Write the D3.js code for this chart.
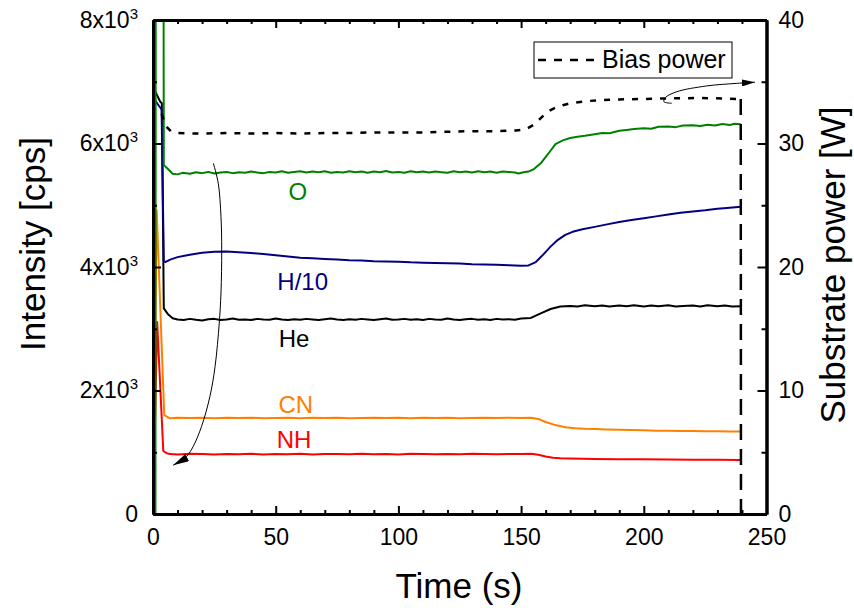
<!DOCTYPE html>
<html>
<head>
<meta charset="utf-8">
<script src="https://cdn.jsdelivr.net/npm/d3@7"></script>
<style>
  body { margin: 0; background: #fff; }
  svg { display: block; }
  text { font-family: "Liberation Sans", Arial, Helvetica, sans-serif; }
</style>
</head>
<body>
<svg id="chart" width="854" height="608"></svg>
<script>
// ---------- data ----------
const timeTicks = [0, 50, 100, 150, 200, 250];
const intensityTicks = [0, 2000, 4000, 6000, 8000];
const powerTicks = [0, 10, 20, 30, 40];

// [time (s), intensity (cps)]
const seriesO = [[0,0],[1.0,0],[1.15,12000],[4.2,12000],[4.4,5650],[6,5590],[8,5510],[10,5500],[12,5525],[15,5510],[17.5,5535],[20,5520],[22.5,5540],[25,5515],[27.5,5530],[30,5540],[32.5,5520],[35,5535],[37.5,5525],[40,5545],[42.5,5530],[45,5520],[47.5,5540],[50,5530],[52.5,5550],[55,5525],[57.5,5540],[60,5550],[62.5,5530],[65,5545],[67.5,5535],[70,5550],[72.5,5525],[75,5540],[77.5,5530],[80,5550],[82.5,5535],[85,5545],[87.5,5525],[90,5545],[92.5,5535],[95,5555],[97.5,5530],[100,5540],[102.5,5525],[105,5550],[107.5,5535],[110,5545],[112.5,5530],[115,5545],[117.5,5535],[120,5525],[122.5,5550],[125,5535],[127.5,5545],[130,5530],[132.5,5550],[135,5535],[137.5,5545],[140,5525],[142.5,5545],[145,5540],[147.5,5530],[149,5515],[151,5535],[153,5545],[155,5580],[158,5680],[161,5830],[164,5990],[167,6050],[170,6090],[173,6110],[176,6125],[180,6150],[183,6170],[186,6165],[190,6205],[193,6220],[196,6235],[200,6245],[203,6240],[206,6270],[210,6275],[213,6265],[216,6290],[220,6295],[223,6285],[226,6305],[229,6290],[232,6315],[235,6300],[237,6320],[239.5,6310]];

const seriesH = [[0,0],[0.8,6700],[3.5,6550],[4.4,4100],[5,4080],[7,4120],[10,4160],[15,4200],[20,4230],[25,4245],[30,4250],[35,4240],[40,4225],[45,4210],[50,4190],[55,4170],[60,4150],[65,4140],[70,4130],[75,4120],[80,4110],[85,4105],[90,4095],[95,4090],[100,4085],[105,4075],[110,4070],[115,4065],[120,4060],[125,4055],[130,4045],[135,4040],[140,4035],[145,4030],[150,4020],[153,4025],[156,4080],[159,4200],[162,4330],[165,4440],[168,4520],[171,4570],[175,4610],[180,4650],[185,4690],[190,4730],[195,4760],[200,4790],[205,4820],[210,4850],[215,4880],[220,4900],[225,4920],[230,4945],[235,4960],[239.5,4975]];

const seriesHe = [[0,0],[0.8,6850],[2.9,6680],[3.6,6650],[4.4,3330],[6,3240],[8,3170],[10,3150],[12.5,3140],[15,3160],[17.5,3145],[20,3135],[22.5,3155],[25,3160],[27.5,3140],[30,3150],[32.5,3165],[35,3145],[37.5,3150],[40,3140],[42.5,3160],[45,3150],[47.5,3145],[50,3165],[52.5,3150],[55,3140],[57.5,3155],[60,3145],[62.5,3160],[65,3150],[67.5,3140],[70,3155],[72.5,3165],[75,3150],[77.5,3140],[80,3155],[82.5,3145],[85,3160],[87.5,3150],[90,3140],[92.5,3155],[95,3165],[97.5,3145],[100,3150],[102.5,3160],[105,3145],[107.5,3155],[110,3140],[112.5,3160],[115,3150],[117.5,3145],[120,3165],[122.5,3150],[125,3140],[127.5,3155],[130,3160],[132.5,3145],[135,3155],[137.5,3140],[140,3160],[142.5,3150],[145,3155],[147.5,3145],[150,3165],[154,3175],[158,3250],[162,3320],[166,3360],[170,3370],[173,3360],[176,3380],[180,3365],[183,3375],[186,3360],[190,3375],[193,3365],[196,3380],[200,3360],[203,3375],[206,3365],[210,3380],[213,3360],[216,3370],[220,3375],[223,3360],[226,3380],[230,3365],[233,3375],[236,3360],[239.5,3365]];

const seriesCN = [[0,0],[1.5,4920],[4.6,1600],[6.9,1550],[10,1560],[15,1555],[20,1560],[25,1550],[30,1560],[35,1555],[40,1560],[45,1550],[50,1555],[55,1560],[60,1550],[65,1560],[70,1555],[75,1560],[80,1550],[85,1555],[90,1560],[95,1555],[100,1560],[105,1550],[110,1560],[115,1555],[120,1560],[125,1550],[130,1555],[135,1560],[140,1555],[145,1560],[150,1555],[154,1560],[157,1540],[160,1490],[164,1440],[168,1405],[172,1390],[176,1380],[180,1375],[185,1370],[190,1365],[195,1360],[200,1355],[205,1350],[210,1350],[215,1345],[220,1345],[225,1340],[230,1340],[235,1335],[239.5,1335]];

const seriesNH = [[0,0],[1.7,3110],[4.2,1020],[5.6,985],[7,970],[10,965],[15,975],[20,970],[25,965],[30,972],[35,968],[40,975],[45,965],[50,970],[55,968],[60,975],[65,965],[70,970],[75,972],[80,966],[85,975],[90,968],[95,970],[100,965],[105,975],[110,970],[115,968],[120,972],[125,966],[130,975],[135,970],[140,968],[145,972],[150,970],[154,975],[157,960],[160,930],[163,912],[166,903],[170,898],[175,895],[180,892],[190,888],[200,885],[210,882],[220,880],[230,878],[239.5,875]];

// [time (s), substrate bias power (W)]
const seriesBias = [[3.5,32.4],[5.3,31.4],[7.5,30.95],[10,30.85],[20,30.8],[30,30.85],[40,30.8],[50,30.85],[60,30.8],[70,30.85],[80,30.85],[90,30.9],[100,30.9],[110,30.9],[120,30.95],[130,31.0],[140,31.0],[148,31.05],[152,31.15],[155,31.5],[158,32.05],[161,32.6],[164,32.9],[167,33.1],[170,33.25],[174,33.36],[178,33.45],[182,33.5],[190,33.57],[199,33.6],[210,33.65],[223,33.68],[232,33.65],[239.5,33.6],[239.6,0]];

const seriesNames = ["O", "H/10", "He", "CN", "NH"];
const seriesColors = ["#008000", "#000080", "#000000", "#FF8000", "#FF0000"];
// label anchor points [time, intensity] for the series names
const labelPos = [[59, 5085], [61, 3627], [57.5, 2709], [58.2, 1640], [57.5, 1069]];

// guide arrows: one pointing from the curves to the left axis, one from the bias curve to the right axis
const arrowLeft = [[24.6,5680],[26.6,5355],[27.7,4815],[28.0,4275],[27.7,3580],[27.0,3095],[25.3,2390],[23.2,1905],[19.8,1420],[16.4,1096],[13.7,934],[8.2,790]];
const arrowRight = [[211.4,33.26],[208.2,33.38],[208.8,33.72],[213.4,34.19],[225.6,34.66],[237.9,34.87],[245.3,34.96]];

// ---------- layout ----------
const svg = d3.select("#chart");
const L = 153, R = 766.5, T = 20, B = 514;

const x = d3.scaleLinear().domain([0, 250]).range([L, R]);
const yL = d3.scaleLinear().domain([0, 8000]).range([B, T]);
const yR = d3.scaleLinear().domain([0, 40]).range([B, T]);

const defs = svg.append("defs");
defs.append("clipPath").attr("id", "plotClip")
  .append("rect").attr("x", L).attr("y", T).attr("width", R - L).attr("height", B - T);

function addMarker(id, w, h) {
  defs.append("marker").attr("id", id)
    .attr("viewBox", "0 0 10 10").attr("refX", 10).attr("refY", 5)
    .attr("preserveAspectRatio", "none")
    .attr("markerWidth", w).attr("markerHeight", h)
    .attr("markerUnits", "userSpaceOnUse").attr("orient", "auto")
    .append("path").attr("d", "M0,0 L10,5 L0,10 Z").attr("fill", "#000");
}
addMarker("headL", 16, 8);
addMarker("headR", 13, 7);

const plot = svg.append("g").attr("clip-path", "url(#plotClip)");

// intensity curves (O drawn last so its spike stays on top)
const lineL = d3.line().x(d => x(d[0])).y(d => yL(d[1]));
const allSeries = [seriesO, seriesH, seriesHe, seriesCN, seriesNH];
[4, 3, 2, 1, 0].forEach(i => {
  plot.append("path").datum(allSeries[i])
    .attr("d", lineL).attr("fill", "none")
    .attr("stroke", seriesColors[i]).attr("stroke-width", 2)
    .attr("stroke-linejoin", "round");
});

// bias power curve (right axis); the final drop drawn with a longer dash
const lineR = d3.line().x(d => x(d[0])).y(d => yR(d[1]));
plot.append("path").datum(seriesBias.slice(0, -1))
  .attr("d", lineR).attr("fill", "none")
  .attr("stroke", "#000").attr("stroke-width", 2.5)
  .attr("stroke-dasharray", "6,8");
plot.append("path").datum(seriesBias.slice(-2))
  .attr("d", lineR).attr("fill", "none")
  .attr("stroke", "#000").attr("stroke-width", 2.5)
  .attr("stroke-dasharray", "16,9");

// arrows
const curveL = d3.line().x(d => x(d[0])).y(d => yL(d[1])).curve(d3.curveCatmullRom);
const curveR = d3.line().x(d => x(d[0])).y(d => yR(d[1])).curve(d3.curveCatmullRom);
svg.append("path").datum(arrowLeft).attr("d", curveL)
  .attr("fill", "none").attr("stroke", "#000").attr("stroke-width", 1)
  .attr("marker-end", "url(#headL)");
svg.append("path").datum(arrowRight).attr("d", curveR)
  .attr("fill", "none").attr("stroke", "#000").attr("stroke-width", 1)
  .attr("marker-end", "url(#headR)");

// series name labels
seriesNames.forEach((name, i) => {
  svg.append("text")
    .attr("x", x(labelPos[i][0])).attr("y", yL(labelPos[i][1]))
    .attr("text-anchor", "middle").attr("font-size", 24)
    .attr("fill", seriesColors[i]).text(name);
});

// ---------- axes ----------
function styleAxis(g) {
  g.select(".domain").attr("stroke", "#000").attr("stroke-width", 3);
  g.selectAll(".tick line").attr("stroke", "#000").attr("stroke-width", 2);
  g.selectAll(".tick text").attr("fill", "#000").attr("font-size", 23)
    .attr("font-family", "'Liberation Sans', Arial, sans-serif");
}
const minorTime = d3.range(0, 251, 10).filter(v => v % 50 !== 0);
const minorInt = d3.range(1000, 8000, 2000);
const minorPow = d3.range(5, 40, 10);

// bottom
svg.append("g").attr("transform", `translate(0,${B})`)
  .call(d3.axisBottom(x).tickValues(minorTime).tickSize(-4).tickSizeOuter(0).tickFormat(""))
  .call(styleAxis);
svg.append("g").attr("transform", `translate(0,${B})`)
  .call(d3.axisBottom(x).tickValues(timeTicks).tickSize(-8).tickSizeOuter(0).tickPadding(15).tickFormat(d3.format("d")))
  .call(styleAxis);
// top
svg.append("g").attr("transform", `translate(0,${T})`)
  .call(d3.axisTop(x).tickValues(minorTime).tickSize(-4).tickSizeOuter(0).tickFormat(""))
  .call(styleAxis);
svg.append("g").attr("transform", `translate(0,${T})`)
  .call(d3.axisTop(x).tickValues(timeTicks).tickSize(-8).tickSizeOuter(0).tickFormat(""))
  .call(styleAxis);
// left
svg.append("g").attr("transform", `translate(${L},0)`)
  .call(d3.axisLeft(yL).tickValues(minorInt).tickSize(-4).tickSizeOuter(0).tickFormat(""))
  .call(styleAxis);
const gLeft = svg.append("g").attr("transform", `translate(${L},0)`)
  .call(d3.axisLeft(yL).tickValues(intensityTicks).tickSize(-8).tickSizeOuter(0).tickPadding(15))
  .call(styleAxis);
gLeft.selectAll(".tick text").each(function(d) {
  const t = d3.select(this);
  t.text(null);
  if (d === 0) { t.text("0"); return; }
  t.append("tspan").text(`${d / 1000}x10`);
  t.append("tspan").attr("dy", -9).attr("font-size", 15).text("3");
});
// right
svg.append("g").attr("transform", `translate(${R},0)`)
  .call(d3.axisRight(yR).tickValues(minorPow).tickSize(-5).tickSizeOuter(0).tickFormat(""))
  .call(styleAxis);
svg.append("g").attr("transform", `translate(${R},0)`)
  .call(d3.axisRight(yR).tickValues(powerTicks).tickSize(-9).tickSizeOuter(0).tickPadding(12).tickFormat(d3.format("d")))
  .call(styleAxis);

// axis titles
svg.append("text").attr("x", 459).attr("y", 598)
  .attr("text-anchor", "middle").attr("font-size", 35).text("Time (s)");
svg.append("text").attr("transform", "translate(45,244) rotate(-90)")
  .attr("text-anchor", "middle").attr("font-size", 35).text("Intensity [cps]");
svg.append("text").attr("transform", "translate(845,265) rotate(-90)")
  .attr("text-anchor", "middle").attr("font-size", 35).text("Substrate power [W]");

// ---------- legend ----------
const leg = svg.append("g");
leg.append("rect").attr("x", 534).attr("y", 42).attr("width", 198).attr("height", 36)
  .attr("fill", "#fff").attr("stroke", "#000").attr("stroke-width", 1);
leg.append("line").attr("x1", 538).attr("x2", 596).attr("y1", 60).attr("y2", 60)
  .attr("stroke", "#000").attr("stroke-width", 2.5).attr("stroke-dasharray", "8,8");
leg.append("text").attr("x", 602).attr("y", 68).attr("font-size", 25).text("Bias power");
</script>
</body>
</html>
